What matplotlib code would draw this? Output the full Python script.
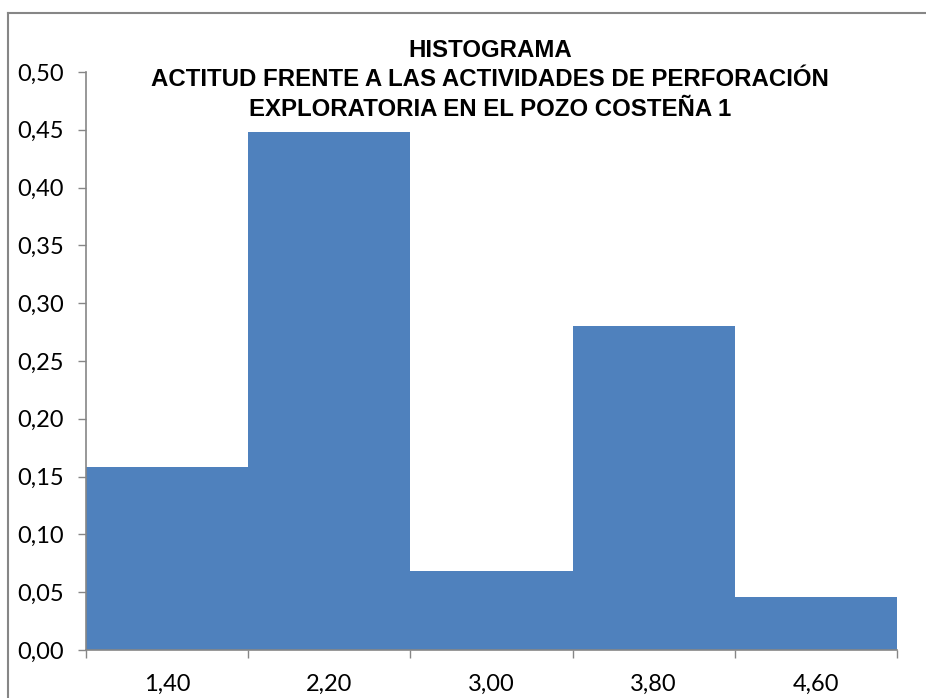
#!/usr/bin/env python3
"""Histogram: actitud frente a las actividades de perforación."""

import numpy as np
import matplotlib
matplotlib.use("Agg")
import matplotlib.pyplot as plt
from matplotlib.lines import Line2D

# data
bins = ["1,40", "2,20", "3,00", "3,80", "4,60"]
freq = [0.158, 0.448, 0.068, 0.280, 0.046]
yticks = [0.00, 0.05, 0.10, 0.15, 0.20, 0.25, 0.30, 0.35, 0.40, 0.45, 0.50]

title = ("HISTOGRAMA\n"
         "ACTITUD FRENTE A LAS ACTIVIDADES DE PERFORACIÓN\n"
         "EXPLORATORIA EN EL POZO COSTEÑA 1")

bar_color = "#4F81BD"
axis_color = "#868686"


def main():
    W, H = 926, 698
    fig = plt.figure(figsize=(W / 100, H / 100), dpi=100)
    ax = fig.add_axes([86 / W, 48 / H, (897 - 86) / W, (650 - 72) / H])

    X = np.arange(len(bins))
    ax.bar(X, freq, width=1.0, align="edge", color=bar_color, edgecolor="none")

    ax.set_xlim(0, len(bins))
    ax.set_ylim(0, 0.5)

    # labels centred under bars, tick marks at bar edges
    ax.set_xticks(X + 0.5, labels=bins)
    ax.set_xticks(np.arange(len(bins) + 1), minor=True)
    ax.tick_params(axis="x", which="major", length=0, pad=17)
    ax.tick_params(axis="x", which="minor", length=6, width=1, color=axis_color)
    ax.set_yticks(yticks, labels=[f"{v:.2f}".replace(".", ",") for v in yticks])
    ax.tick_params(axis="y", length=6, width=1, color=axis_color, pad=10)

    for lab in ax.get_xticklabels() + ax.get_yticklabels():
        lab.set_fontfamily("Lato")
        lab.set_fontsize(17)
        lab.set_color("black")

    for side in ["top", "right"]:
        ax.spines[side].set_visible(False)
    for side in ["left", "bottom"]:
        ax.spines[side].set_color(axis_color)
        ax.spines[side].set_linewidth(1.2)

    fig.text(490 / W, 1 - 80 / H, title, ha="center", va="center",
             fontfamily="Liberation Sans", fontweight="bold", fontsize=17.3,
             linespacing=1.35)

    # outer chart frame (cut off at right and bottom)
    fig.add_artist(Line2D([8 / W, 1.0], [1 - 13 / H, 1 - 13 / H],
                          transform=fig.transFigure, color=axis_color, lw=1.5))
    fig.add_artist(Line2D([8 / W, 8 / W], [0.0, 1 - 13 / H],
                          transform=fig.transFigure, color=axis_color, lw=1.5))

    fig.savefig("out.png", dpi=100)


if __name__ == "__main__":
    main()
